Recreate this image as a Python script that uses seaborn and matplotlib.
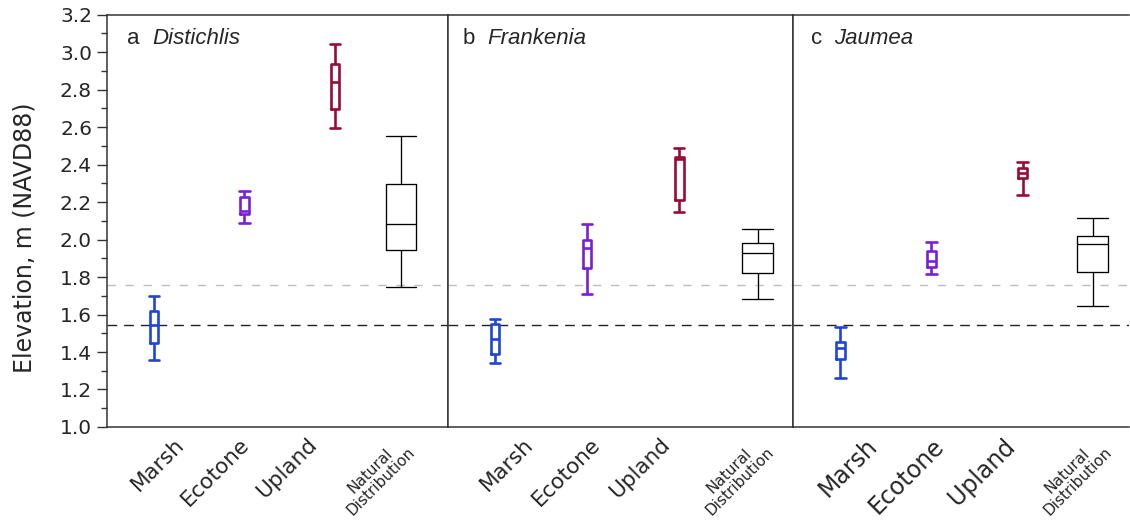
import numpy as np
import pandas as pd
import matplotlib
matplotlib.use("Agg")
import matplotlib.pyplot as plt
import seaborn as sns
from matplotlib.ticker import MultipleLocator, FormatStrFormatter

# ---------------- data ----------------
panel_letters = ["a", "b", "c"]
species = ["Distichlis", "Frankenia", "Jaumea"]
categories = ["Marsh", "Ecotone", "Upland", "Natural Distribution"]
tick_labels = ["Marsh", "Ecotone", "Upland", "Natural\nDistribution"]

# five-number summaries: whisker low, Q1, median, Q3, whisker high (m NAVD88)
distichlis_marsh = [1.360, 1.446, 1.543, 1.618, 1.698]
distichlis_ecotone = [2.089, 2.134, 2.152, 2.228, 2.260]
distichlis_upland = [2.597, 2.695, 2.839, 2.935, 3.042]
distichlis_natural = [1.745, 1.945, 2.083, 2.296, 2.552]

frankenia_marsh = [1.342, 1.389, 1.467, 1.552, 1.577]
frankenia_ecotone = [1.709, 1.848, 1.953, 1.997, 2.083]
frankenia_upland = [2.145, 2.211, 2.428, 2.442, 2.488]
frankenia_natural = [1.684, 1.819, 1.926, 1.979, 2.054]

jaumea_marsh = [1.259, 1.362, 1.419, 1.454, 1.531]
jaumea_ecotone = [1.816, 1.855, 1.887, 1.940, 1.985]
jaumea_upland = [2.237, 2.327, 2.353, 2.380, 2.412]
jaumea_natural = [1.646, 1.825, 1.976, 2.020, 2.113]

ref_upper = 1.757   # grey dashed reference line
ref_lower = 1.542   # black dashed reference line

# ---------------- layout / style ----------------
box_positions = [[0, 1, 2, 2.73], [0, 1, 2, 2.85], [0, 1, 2, 2.77]]
label_positions = [[0.04, 0.68, 1.47, 2.45], [0.13, 0.78, 1.57, 2.60], [0.09, 0.73, 1.55, 2.55]]
xlims = [(-0.516, 3.245), (-0.514, 3.239), (-0.515, 3.165)]
label_sizes = [15.5, 15.5, 17.0]
letter_x = [0.057, 0.042, 0.052]
species_x = [0.132, 0.114, 0.122]
palette = {"Marsh": "#1f45d6", "Ecotone": "#7a1fd8", "Upland": "#9a0a35"}

summaries = [
    [distichlis_marsh, distichlis_ecotone, distichlis_upland, distichlis_natural],
    [frankenia_marsh, frankenia_ecotone, frankenia_upland, frankenia_natural],
    [jaumea_marsh, jaumea_ecotone, jaumea_upland, jaumea_natural],
]

rows = []
for p, (sp, groups) in enumerate(zip(species, summaries)):
    for c, (cat, vals) in enumerate(zip(categories, groups)):
        for v in vals:
            rows.append({"species": sp, "category": cat,
                         "pos": float(box_positions[p][c]), "value": v})
df = pd.DataFrame(rows)

sns.set_theme(style="ticks")
plt.rcParams["font.family"] = ["DejaVu Sans"]
plt.rcParams["axes.edgecolor"] = "#333333"
plt.rcParams["axes.linewidth"] = 1.1

fig, axes = plt.subplots(
    1, 3, figsize=(11.3, 5.23), dpi=100, sharey=True,
    gridspec_kw=dict(width_ratios=[340.4, 346, 335.7], wspace=0),
)
fig.subplots_adjust(left=0.095, right=0.999, top=0.972, bottom=0.1836)

for p, ax in enumerate(axes):
    sub = df[df["species"] == species[p]]
    colored = sub[sub["category"] != "Natural Distribution"]
    natural = sub[sub["category"] == "Natural Distribution"]

    ax.axhline(ref_upper, color="#bdbdbd", lw=1.0, dashes=(6, 7), zorder=1)
    ax.axhline(ref_lower, color="#222222", lw=1.0, dashes=(7, 5), zorder=1)

    sns.boxplot(data=colored, x="pos", y="value", hue="category",
                hue_order=categories[:3], palette=palette, native_scale=True,
                dodge=False, fill=False, width=0.095, whis=(0, 100),
                linewidth=1.9, capwidths=0.115, legend=False, ax=ax)
    sns.boxplot(data=natural, x="pos", y="value", color="black",
                native_scale=True, fill=False, width=0.34, whis=(0, 100),
                linewidth=0.95, capwidths=0.34, ax=ax)

    ax.set_xlim(*xlims[p])
    ax.set_xticks(label_positions[p])
    ax.set_xticklabels(tick_labels, rotation=45)
    for i, lab in enumerate(ax.get_xticklabels()):
        if i == 3:
            lab.set_fontsize(11)
            lab.set_linespacing(0.95)
        else:
            lab.set_fontsize(label_sizes[p])
    ax.tick_params(axis="x", length=0, pad=5)
    ax.set_xlabel("")
    ax.set_ylabel("")

    ax.text(letter_x[p], 0.929, panel_letters[p], transform=ax.transAxes,
            fontsize=16, family="Liberation Sans", va="baseline", ha="left")
    ax.text(species_x[p], 0.929, species[p], transform=ax.transAxes,
            fontsize=16, family="Liberation Sans", style="italic",
            va="baseline", ha="left")

ax0 = axes[0]
ax0.set_ylim(1.0, 3.2)
ax0.yaxis.set_major_locator(MultipleLocator(0.2))
ax0.yaxis.set_minor_locator(MultipleLocator(0.1))
ax0.yaxis.set_major_formatter(FormatStrFormatter("%.1f"))
ax0.tick_params(axis="y", which="major", length=7, width=1, labelsize=14.5,
                pad=4, color="#333333")
ax0.tick_params(axis="y", which="minor", length=4, width=1, color="#333333")
ax0.set_ylabel("Elevation, m (NAVD88)", fontsize=17)
ax0.yaxis.set_label_coords(-0.207, 0.46)

for ax in axes[1:]:
    ax.tick_params(axis="y", which="both", left=False, labelleft=False)
axes[2].spines["right"].set_visible(False)

fig.savefig("out.png", dpi=100)
